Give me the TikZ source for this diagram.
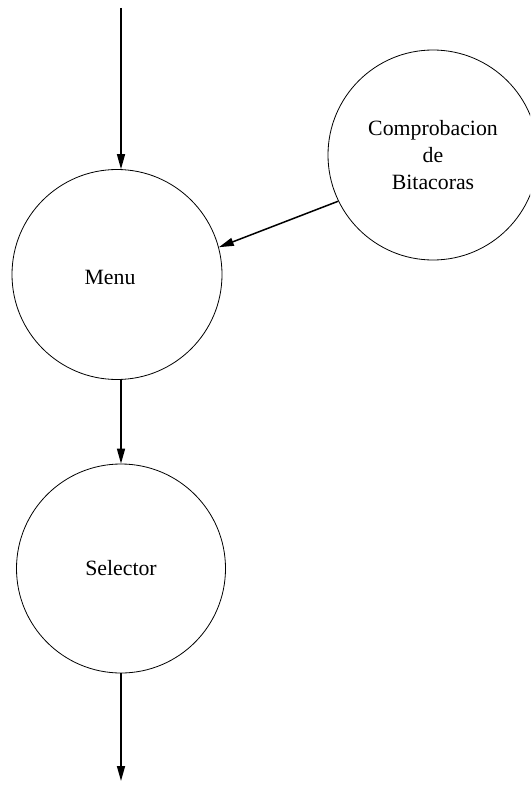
\documentclass[tikz,border=0pt]{standalone}
\usepackage{fontspec}
\setmainfont{Liberation Serif}
\usetikzlibrary{arrows.meta}
\begin{document}
\begin{tikzpicture}[x=1pt,y=-1pt,
  proc/.style={draw,circle,line width=0.8pt,inner sep=0pt,minimum size=210pt,
    font=\fontsize{21.8}{27}\selectfont,align=center},
  flow/.style={line width=1.5pt,-{Triangle[length=15pt,width=8pt]}}]
  \useasboundingbox (0,0) rectangle (530,789);
  \begin{scope}
    \clip (0,0) rectangle (530,789);
    \node[proc] (menu) at (117,274.5) {};
    \node[font=\fontsize{21.8}{27}\selectfont] (menutext) at (110,277) {Menu};
    \node[proc,minimum size=209pt] (sel) at (121,568.5) {Selector};
    \node[proc] (comp) at (433,155) {Comprobacion\\de\\Bitacoras};
  \end{scope}
  \coordinate (in) at (121,8);
  \coordinate (out) at (121,781);
  \draw[flow] (in) -- (in |- menu.north);
  \draw[flow] (sel.north |- menu.south) -- (sel.north);
  \draw[flow] (sel.south) -- (out);
  \draw[flow] (comp.206.7) -- (menu.15.5);
\end{tikzpicture}
\end{document}
